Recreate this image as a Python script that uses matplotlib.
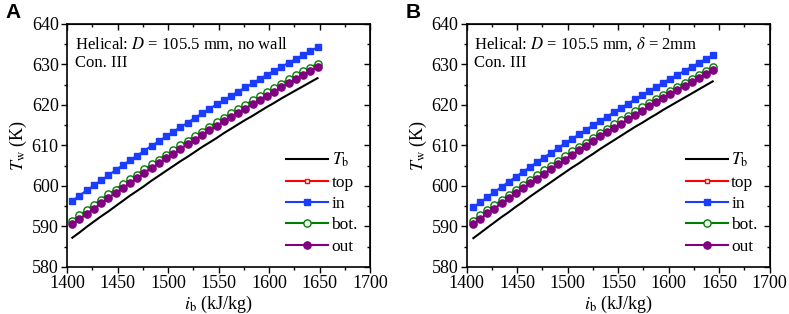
import numpy as np
import matplotlib
matplotlib.use('Agg')
import matplotlib.pyplot as plt
from matplotlib.ticker import MultipleLocator

plt.rcParams['font.family'] = ['Liberation Serif', 'DejaVu Serif']
plt.rcParams['mathtext.fontset'] = 'stix'
plt.rcParams['font.size'] = 12

# panel A: no wall
ib_a = [1405.2, 1412.3, 1419.5, 1426.6, 1433.8, 1440.9, 1448.0, 1455.2, 1462.3, 1469.5,
        1476.6, 1483.7, 1490.9, 1498.0, 1505.2, 1512.3, 1519.4, 1526.6, 1533.7, 1540.9,
        1548.0, 1555.1, 1562.3, 1569.4, 1576.6, 1583.7, 1590.8, 1598.0, 1605.1, 1612.3,
        1619.4, 1626.5, 1633.7, 1640.8, 1648.0]
tb_a = [587.2, 588.5, 589.9, 591.2, 592.5, 593.7, 595.0, 596.3, 597.6, 598.8,
        600.0, 601.3, 602.5, 603.7, 604.9, 606.1, 607.2, 608.4, 609.6, 610.7,
        611.8, 613.0, 614.1, 615.2, 616.3, 617.3, 618.4, 619.5, 620.5, 621.6,
        622.6, 623.6, 624.6, 625.6, 626.6]
top_a = [591.4, 592.7, 594.0, 595.3, 596.6, 597.8, 599.1, 600.3, 601.6, 602.8,
         604.0, 605.2, 606.4, 607.6, 608.8, 610.0, 611.1, 612.3, 613.4, 614.5,
         615.6, 616.7, 617.8, 618.9, 620.0, 621.1, 622.1, 623.2, 624.2, 625.2,
         626.2, 627.2, 628.2, 629.2, 630.1]
in_a = [596.3, 597.6, 598.9, 600.1, 601.4, 602.6, 603.9, 605.1, 606.3, 607.5,
        608.7, 609.9, 611.0, 612.2, 613.4, 614.5, 615.6, 616.8, 617.9, 619.0,
        620.1, 621.1, 622.2, 623.3, 624.3, 625.3, 626.4, 627.4, 628.4, 629.4,
        630.4, 631.3, 632.3, 633.3, 634.2]
bot_a = [591.4, 592.7, 594.0, 595.3, 596.6, 597.9, 599.1, 600.4, 601.6, 602.8,
         604.1, 605.3, 606.5, 607.7, 608.8, 610.0, 611.2, 612.3, 613.4, 614.6,
         615.7, 616.8, 617.9, 619.0, 620.0, 621.1, 622.2, 623.2, 624.2, 625.2,
         626.3, 627.3, 628.3, 629.2, 630.2]
out_a = [590.5, 591.8, 593.1, 594.4, 595.7, 597.0, 598.2, 599.5, 600.7, 601.9,
         603.2, 604.4, 605.6, 606.8, 607.9, 609.1, 610.3, 611.4, 612.5, 613.7,
         614.8, 615.9, 617.0, 618.1, 619.1, 620.2, 621.3, 622.3, 623.3, 624.3,
         625.4, 626.4, 627.4, 628.3, 629.3]

# panel B: wall thickness 2 mm
ib_b = [1406.6, 1413.6, 1420.5, 1427.5, 1434.5, 1441.5, 1448.4, 1455.4, 1462.4, 1469.3,
        1476.3, 1483.3, 1490.2, 1497.2, 1504.2, 1511.2, 1518.1, 1525.1, 1532.1, 1539.0,
        1546.0, 1553.0, 1559.9, 1566.9, 1573.9, 1580.9, 1587.8, 1594.8, 1601.8, 1608.7,
        1615.7, 1622.7, 1629.6, 1636.6, 1643.6]
tb_b = [587.1, 588.4, 589.7, 591.0, 592.3, 593.5, 594.8, 596.0, 597.3, 598.5,
        599.7, 600.9, 602.1, 603.3, 604.5, 605.6, 606.8, 607.9, 609.1, 610.2,
        611.3, 612.4, 613.5, 614.6, 615.6, 616.7, 617.7, 618.8, 619.8, 620.8,
        621.8, 622.8, 623.8, 624.8, 625.8]
top_b = [591.4, 592.7, 593.9, 595.2, 596.4, 597.7, 598.9, 600.1, 601.3, 602.5,
         603.7, 604.9, 606.1, 607.3, 608.4, 609.6, 610.7, 611.8, 612.9, 614.0,
         615.1, 616.2, 617.3, 618.3, 619.4, 620.4, 621.4, 622.4, 623.4, 624.4,
         625.4, 626.4, 627.4, 628.3, 629.3]
in_b = [594.7, 596.0, 597.2, 598.5, 599.7, 601.0, 602.2, 603.4, 604.6, 605.8,
        607.0, 608.1, 609.3, 610.5, 611.6, 612.7, 613.8, 615.0, 616.0, 617.1,
        618.2, 619.3, 620.3, 621.4, 622.4, 623.4, 624.5, 625.5, 626.5, 627.4,
        628.4, 629.4, 630.3, 631.3, 632.2]
bot_b = [591.4, 592.7, 594.0, 595.2, 596.5, 597.7, 599.0, 600.2, 601.4, 602.6,
         603.8, 605.0, 606.1, 607.3, 608.5, 609.6, 610.7, 611.9, 613.0, 614.1,
         615.2, 616.2, 617.3, 618.4, 619.4, 620.4, 621.5, 622.5, 623.5, 624.5,
         625.5, 626.4, 627.4, 628.4, 629.3]
out_b = [590.6, 591.9, 593.2, 594.4, 595.7, 596.9, 598.2, 599.4, 600.6, 601.8,
         603.0, 604.2, 605.3, 606.5, 607.7, 608.8, 609.9, 611.1, 612.2, 613.3,
         614.4, 615.4, 616.5, 617.6, 618.6, 619.6, 620.7, 621.7, 622.7, 623.7,
         624.7, 625.6, 626.6, 627.6, 628.5]

panels = [
    ('A', r'Helical: $D$ = 105.5 mm, no wall', ib_a, tb_a, top_a, in_a, bot_a, out_a),
    ('B', r'Helical: $D$ = 105.5 mm, $\delta$ = 2mm', ib_b, tb_b, top_b, in_b, bot_b, out_b),
]

fig = plt.figure(figsize=(7.89, 3.14), dpi=100)
lefts = [0.085, 0.5915]

for k, (tag, note, ib, tb, top, tin, bot, out) in enumerate(panels):
    ax = fig.add_axes([lefts[k], 0.15, 0.384, 0.774])
    ax.plot(ib, tb, color='black', lw=1.5, label=r'$T_\mathrm{b}$')
    ax.plot(ib, top, color='#ff0000', lw=1.5, marker='s', ms=3.5, mfc='white', mew=1.0, label='top')
    ax.plot(ib, tin, color='#1a3cff', lw=1.5, marker='s', ms=4.8, label='in')
    ax.plot(ib, bot, color='#008000', lw=1.5, marker='o', ms=5.2, mfc='white', mew=1.0, label='bot.')
    ax.plot(ib, out, color='#800080', lw=1.5, marker='o', ms=5.2, label='out')

    ax.set_xlim(1400, 1700)
    ax.set_ylim(580, 640)
    ax.xaxis.set_major_locator(MultipleLocator(50))
    ax.xaxis.set_minor_locator(MultipleLocator(25))
    ax.yaxis.set_major_locator(MultipleLocator(10))
    ax.yaxis.set_minor_locator(MultipleLocator(5))
    ax.tick_params(which='both', direction='out', labelsize=13, width=1.0, pad=2)
    ax.tick_params(which='major', length=4)
    ax.tick_params(which='minor', length=2.5)
    for s in ax.spines.values():
        s.set_linewidth(1.2)

    # top and right ticks point inward
    topax = ax.secondary_xaxis('top')
    topax.xaxis.set_major_locator(MultipleLocator(50))
    topax.xaxis.set_minor_locator(MultipleLocator(25))
    topax.tick_params(which='both', direction='in', labeltop=False, width=1.0)
    topax.tick_params(which='major', length=4)
    topax.tick_params(which='minor', length=2.5)
    rightax = ax.secondary_yaxis('right')
    rightax.yaxis.set_major_locator(MultipleLocator(10))
    rightax.yaxis.set_minor_locator(MultipleLocator(5))
    rightax.tick_params(which='both', direction='in', labelright=False, width=1.0)
    rightax.tick_params(which='major', length=4)
    rightax.tick_params(which='minor', length=2.5)

    ax.set_xlabel(r'$i_\mathrm{b}$ (kJ/kg)', fontsize=13, labelpad=1)
    ax.set_ylabel(r'$T_\mathrm{w}$ (K)', fontsize=13, labelpad=2)

    ax.text(0.025, 0.955, note, transform=ax.transAxes, fontsize=12, va='top', ha='left')
    ax.text(0.025, 0.87, 'Con. III', transform=ax.transAxes, fontsize=12, va='top', ha='left')

    ax.legend(loc='lower right', frameon=False, fontsize=12.5, handlelength=2.4,
              handletextpad=0.2, labelspacing=0.3, borderaxespad=0.3,
              bbox_to_anchor=(1.0, 0.0))

    fig.text(lefts[k] - 0.078, 0.99, tag, fontsize=15, fontweight='bold',
             family='Liberation Sans', va='top', ha='left')

fig.savefig('out.png', dpi=100)
